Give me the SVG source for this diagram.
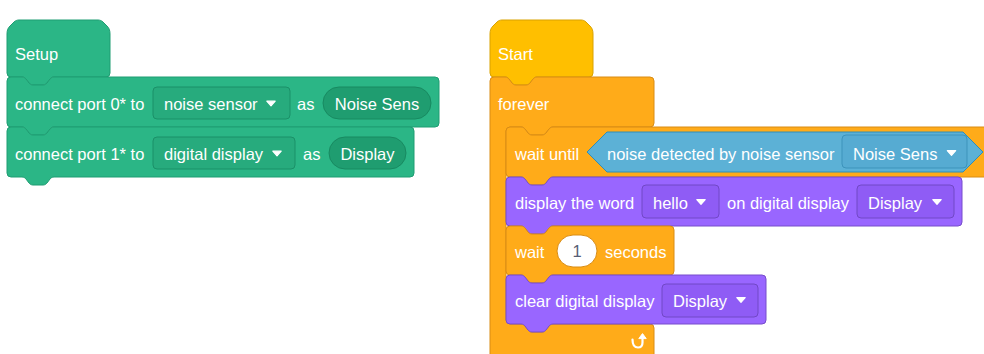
<svg xmlns="http://www.w3.org/2000/svg" width="984" height="354" viewBox="0 0 984 354">
  <style>
    .t{font-family:"Liberation Sans",Arial,Helvetica,sans-serif;font-size:16.5px;fill:#ffffff}
    .tg{font-family:"Liberation Sans",Arial,Helvetica,sans-serif;font-size:16.5px;fill:#575e75}
    .green{fill:#2bb686;stroke:#1f9d72;stroke-width:1}
    .gdrop{fill:#27ab7d;stroke:#1b9068;stroke-width:1}
    .gpill{fill:#1f9d70;stroke:#188a61;stroke-width:1}
    .yellow{fill:#ffbf00;stroke:#d9a200;stroke-width:1}
    .orange{fill:#ffab19;stroke:#d98c14;stroke-width:1}
    .blue{fill:#5cb1d6;stroke:#2e8eb8;stroke-width:1;stroke-linejoin:round}
    .bdrop{fill:#56abd2;stroke:#3c93bb;stroke-width:1}
    .purple{fill:#9966ff;stroke:#774dcb;stroke-width:1}
    .pdrop{fill:#8f5cf5;stroke:#7148c6;stroke-width:1}
    .arrow{fill:#ffffff;stroke:#ffffff;stroke-width:1.2;stroke-linejoin:round}
  </style>
  <defs>
    <!-- small dropdown caret, centred on the origin -->
    <path id="caret" d="M-4.2,-2.3 H4.2 L0,2.3 Z"/>
  </defs>

  <!-- ===== Setup stack ===== -->
  <g id="setup-hat">
    <path class="green" d="M7,34 C7,30 8,28 10,26 L14,22 C15.5,20.7 17,20 19,20 H98 C100,20 101.5,20.7 103,22 L107,26 C109,28 110,30 110,34 V73 A4,4 0 0 1 106,77 H54 c-2,0 -3,1 -4,2 l-3,4 c-1,1 -2,2 -4,2 h-10 c-2,0 -3,-1 -4,-2 l-3,-4 c-1,-1 -2,-2 -4,-2 H11 A4,4 0 0 1 7,73 Z"/>
    <text class="t" x="15" y="60">Setup</text>
  </g>

  <g id="connect-port-0">
    <path class="green" d="M7,81 A4,4 0 0 1 11,77 H22 c2,0 3,1 4,2 l3,4 c1,1 2,2 4,2 h10 c2,0 3,-1 4,-2 l3,-4 c1,-1 2,-2 4,-2 H435 A4,4 0 0 1 439,81 V123 A4,4 0 0 1 435,127 H54 c-2,0 -3,1 -4,2 l-3,4 c-1,1 -2,2 -4,2 h-10 c-2,0 -3,-1 -4,-2 l-3,-4 c-1,-1 -2,-2 -4,-2 H11 A4,4 0 0 1 7,123 Z"/>
    <text class="t" x="15" y="109.5">connect port 0* to</text>
    <rect class="gdrop" x="153" y="87" width="137" height="32" rx="4"/>
    <text class="t" x="164" y="109.5">noise sensor</text>
    <use href="#caret" class="arrow" x="271" y="103.5"/>
    <text class="t" x="297" y="109.5">as</text>
    <rect class="gpill" x="323" y="87" width="108" height="32" rx="16"/>
    <text class="t" x="377" y="109.5" text-anchor="middle">Noise Sens</text>
  </g>

  <g id="connect-port-1">
    <path class="green" d="M7,131 A4,4 0 0 1 11,127 H22 c2,0 3,1 4,2 l3,4 c1,1 2,2 4,2 h10 c2,0 3,-1 4,-2 l3,-4 c1,-1 2,-2 4,-2 H410 A4,4 0 0 1 414,131 V173 A4,4 0 0 1 410,177 H54 c-2,0 -3,1 -4,2 l-3,4 c-1,1 -2,2 -4,2 h-10 c-2,0 -3,-1 -4,-2 l-3,-4 c-1,-1 -2,-2 -4,-2 H11 A4,4 0 0 1 7,173 Z"/>
    <text class="t" x="15" y="159.5">connect port 1* to</text>
    <rect class="gdrop" x="153" y="137" width="142" height="32" rx="4"/>
    <text class="t" x="164" y="159.5">digital display</text>
    <use href="#caret" class="arrow" x="277" y="153.5"/>
    <text class="t" x="303" y="159.5">as</text>
    <rect class="gpill" x="329" y="137" width="77" height="32" rx="16"/>
    <text class="t" x="367.5" y="159.5" text-anchor="middle">Display</text>
  </g>

  <!-- ===== Start stack ===== -->
  <g id="start-hat">
    <path class="yellow" d="M490,34 C490,30 491,28 493,26 L497,22 C498.5,20.7 500,20 502,20 H581 C583,20 584.5,20.7 586,22 L590,26 C592,28 593,30 593,34 V73 A4,4 0 0 1 589,77 H537 c-2,0 -3,1 -4,2 l-3,4 c-1,1 -2,2 -4,2 h-10 c-2,0 -3,-1 -4,-2 l-3,-4 c-1,-1 -2,-2 -4,-2 H494 A4,4 0 0 1 490,73 Z"/>
    <text class="t" x="498" y="60">Start</text>
  </g>

  <g id="forever">
    <path class="orange" d="M490,81 A4,4 0 0 1 494,77 H505 c2,0 3,1 4,2 l3,4 c1,1 2,2 4,2 h10 c2,0 3,-1 4,-2 l3,-4 c1,-1 2,-2 4,-2 H650 A4,4 0 0 1 654,81 V123 A4,4 0 0 1 650,127 H553 c-2,0 -3,1 -4,2 l-3,4 c-1,1 -2,2 -4,2 h-10 c-2,0 -3,-1 -4,-2 l-3,-4 c-1,-1 -2,-2 -4,-2 H510 A4,4 0 0 0 506,131 V320 A4,4 0 0 0 510,324 H521 c2,0 3,1 4,2 l3,4 c1,1 2,2 4,2 h10 c2,0 3,-1 4,-2 l3,-4 c1,-1 2,-2 4,-2 H650 A4,4 0 0 1 654,328 V362 H490 Z"/>
    <text class="t" x="498" y="109.5">forever</text>
    <!-- loop icon -->
    <path d="M632.5,339.5 C632.5,345.5 635,347.5 638,347.5 C641,347.5 642.5,345.5 642.5,342.5 V338.5" fill="none" stroke="#ffffff" stroke-width="2.2" stroke-linecap="round"/>
    <path d="M638.8,338.6 H646.2 L642.5,333.6 Z" fill="#ffffff" stroke="#ffffff" stroke-width="1" stroke-linejoin="round"/>
  </g>

  <g id="wait-until">
    <path class="orange" d="M506,131 A4,4 0 0 1 510,127 H521 c2,0 3,1 4,2 l3,4 c1,1 2,2 4,2 h10 c2,0 3,-1 4,-2 l3,-4 c1,-1 2,-2 4,-2 H1000 V177 H553 c-2,0 -3,1 -4,2 l-3,4 c-1,1 -2,2 -4,2 h-10 c-2,0 -3,-1 -4,-2 l-3,-4 c-1,-1 -2,-2 -4,-2 H510 A4,4 0 0 1 506,173 Z"/>
    <text class="t" x="515" y="159.5">wait until</text>
    <g id="noise-detected">
      <path class="blue" d="M607,132 H963 L983,152 L963,172 H607 L587,152 Z"/>
      <text class="t" x="607" y="159.5">noise detected by noise sensor</text>
      <rect class="bdrop" x="842" y="135" width="125" height="33" rx="4"/>
      <text class="t" x="853" y="159.5">Noise Sens</text>
      <use href="#caret" class="arrow" x="951.5" y="153"/>
    </g>
  </g>

  <g id="display-word">
    <path class="purple" d="M506,181 A4,4 0 0 1 510,177 H521 c2,0 3,1 4,2 l3,4 c1,1 2,2 4,2 h10 c2,0 3,-1 4,-2 l3,-4 c1,-1 2,-2 4,-2 H958 A4,4 0 0 1 962,181 V222 A4,4 0 0 1 958,226 H553 c-2,0 -3,1 -4,2 l-3,4 c-1,1 -2,2 -4,2 h-10 c-2,0 -3,-1 -4,-2 l-3,-4 c-1,-1 -2,-2 -4,-2 H510 A4,4 0 0 1 506,222 Z"/>
    <text class="t" x="515" y="208.5">display the word</text>
    <rect class="pdrop" x="642" y="185" width="77" height="33" rx="4"/>
    <text class="t" x="653" y="208.5">hello</text>
    <use href="#caret" class="arrow" x="701" y="202"/>
    <text class="t" x="727" y="208.5">on digital display</text>
    <rect class="pdrop" x="857" y="185" width="97" height="33" rx="4"/>
    <text class="t" x="868" y="208.5">Display</text>
    <use href="#caret" class="arrow" x="937" y="202"/>
  </g>

  <g id="wait-seconds">
    <path class="orange" d="M506,230 A4,4 0 0 1 510,226 H521 c2,0 3,1 4,2 l3,4 c1,1 2,2 4,2 h10 c2,0 3,-1 4,-2 l3,-4 c1,-1 2,-2 4,-2 H670 A4,4 0 0 1 674,230 V271 A4,4 0 0 1 670,275 H553 c-2,0 -3,1 -4,2 l-3,4 c-1,1 -2,2 -4,2 h-10 c-2,0 -3,-1 -4,-2 l-3,-4 c-1,-1 -2,-2 -4,-2 H510 A4,4 0 0 1 506,271 Z"/>
    <text class="t" x="515" y="257.5">wait</text>
    <rect x="557" y="235" width="40" height="32" rx="16" fill="#ffffff" stroke="#d98c14" stroke-width="1"/>
    <text class="tg" x="577" y="257" text-anchor="middle">1</text>
    <text class="t" x="605" y="257.5">seconds</text>
  </g>

  <g id="clear-display">
    <path class="purple" d="M506,279 A4,4 0 0 1 510,275 H521 c2,0 3,1 4,2 l3,4 c1,1 2,2 4,2 h10 c2,0 3,-1 4,-2 l3,-4 c1,-1 2,-2 4,-2 H762 A4,4 0 0 1 766,279 V320 A4,4 0 0 1 762,324 H553 c-2,0 -3,1 -4,2 l-3,4 c-1,1 -2,2 -4,2 h-10 c-2,0 -3,-1 -4,-2 l-3,-4 c-1,-1 -2,-2 -4,-2 H510 A4,4 0 0 1 506,320 Z"/>
    <text class="t" x="515" y="306.5">clear digital display</text>
    <rect class="pdrop" x="662" y="284" width="96" height="33" rx="4"/>
    <text class="t" x="673" y="306.5">Display</text>
    <use href="#caret" class="arrow" x="741" y="300"/>
  </g>

  <!-- blocks snap together directly; no separate connector lines -->
  <g id="connectors"/>
</svg>
